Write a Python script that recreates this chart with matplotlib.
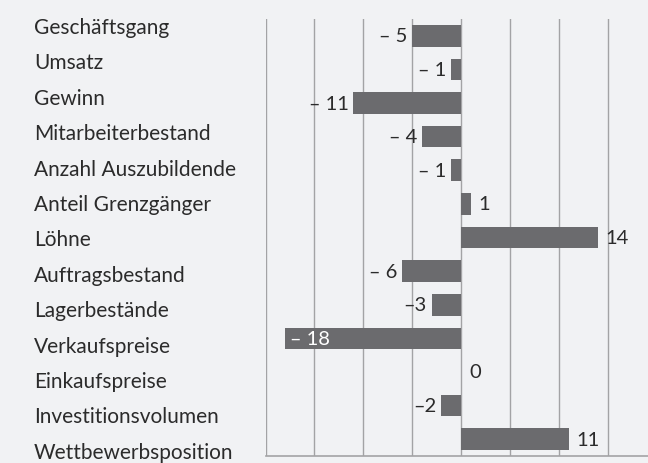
import matplotlib
matplotlib.use("Agg")
import matplotlib.pyplot as plt

# data
categories = ["Geschäftsgang", "Umsatz", "Gewinn", "Mitarbeiterbestand",
              "Anzahl Auszubildende", "Anteil Grenzgänger", "Löhne",
              "Auftragsbestand", "Lagerbestände", "Verkaufspreise",
              "Einkaufspreise", "Investitionsvolumen", "Wettbewerbsposition"]
values = [-5, -1, -11, -4, -1, 1, 14, -6, -3, -18, 0, -2, 11]
value_labels = ["– 5", "– 1", "– 11", "– 4", "– 1", "1", "14",
                "– 6", "–3", "– 18", "0", "–2", "11"]

BG = "#f1f2f4"
BAR = "#6b6b6e"
GRID = "#a3a3a5"
TXT = "#2b2b2b"

plt.rcParams["font.family"] = ["Lato", "DejaVu Sans"]

W, H = 648, 464
fig = plt.figure(figsize=(W / 100, H / 100), dpi=100, facecolor=BG)
ax = fig.add_axes([265.5 / W, 7 / H, (W - 265.5) / W, 437 / H])
ax.set_facecolor(BG)

ypos = list(range(len(categories)))
ax.barh(ypos, values, height=0.645, color=BAR, zorder=3)

ax.set_xlim(-20, 19.13)
ax.set_ylim(len(categories) - 0.5, -0.5)
ax.set_xticks(range(-20, 20, 5))
ax.set_yticks([])
ax.tick_params(axis="x", length=0, labelbottom=False)
ax.grid(axis="x", color=GRID, linewidth=1.0, zorder=1)
for s in ["top", "right", "left"]:
    ax.spines[s].set_visible(False)
ax.spines["bottom"].set_color(GRID)
ax.spines["bottom"].set_linewidth(1.2)

px = 1 / 9.775  # one pixel in data units
for y, v, lab in zip(ypos, values, value_labels):
    if v <= -15:
        ax.text(v + 5 * px, y, lab, ha="left", va="center", color="white",
                fontsize=14.5, zorder=4)
    elif v < 0:
        ax.text(v - 5 * px, y, lab, ha="right", va="center", color=TXT,
                fontsize=14.5, zorder=4)
    else:
        ax.text(v + 8 * px, y, lab, ha="left", va="center", color=TXT,
                fontsize=14.5, zorder=4)

# category labels on the left
for i, name in enumerate(categories):
    yb = 34 + i * 35.4
    fig.text(34 / W, 1 - yb / H, name, ha="left", va="baseline",
             color=TXT, fontsize=15)

fig.savefig("out.png", dpi=100, facecolor=BG)
